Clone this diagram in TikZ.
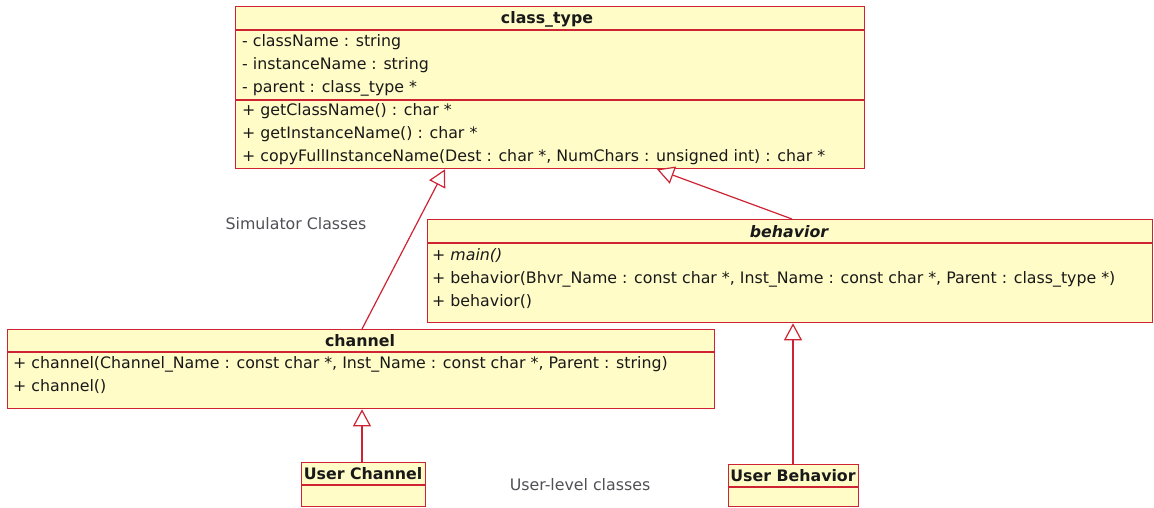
\documentclass[tikz,border=0pt]{standalone}
\usepackage{fontspec}
\setmainfont{DejaVu Sans}
\usetikzlibrary{arrows.meta}
\definecolor{umlline}{RGB}{205,35,50}
\definecolor{umlfill}{RGB}{255,252,200}
\definecolor{notegray}{RGB}{80,80,85}
\begin{document}
\begin{tikzpicture}[x=1pt,y=-1pt,
  font=\fontsize{15.8}{18}\selectfont,
  cls/.style={draw=umlline,fill=umlfill,line width=1.3pt,inner sep=0pt,anchor=north west},
  sep/.style={draw=umlline,line width=1.3pt},
  member/.style={anchor=base west,inner sep=0pt,text=black!90},
  title/.style={anchor=base,inner sep=0pt,text=black!90,font=\fontsize{15.8}{18}\selectfont\bfseries},
  inherit/.style={draw=umlline,line width=1.2pt,-{Triangle[open,length=17pt,width=18pt,fill=white]}},
  note/.style={inner sep=0pt,text=notegray}]
\useasboundingbox (0,0) rectangle (1154,508);
% class boxes
\node[cls,minimum width=629pt,minimum height=162pt] (ct) at (235,6) {};
\node[cls,minimum width=725pt,minimum height=103pt] (bh) at (427,219) {};
\node[cls,minimum width=707pt,minimum height=79pt] (ch) at (7,329) {};
\node[cls,minimum width=124pt,minimum height=44pt] (uc) at (301,462) {};
\node[cls,minimum width=130pt,minimum height=42pt] (ub) at (728,464) {};
% compartments
\draw[sep] (ct.west |- 0,30) -- (ct.east |- 0,30);
\draw[sep] (ct.west |- 0,100) -- (ct.east |- 0,100);
\draw[sep] (bh.west |- 0,243) -- (bh.east |- 0,243);
\draw[sep] (ch.west |- 0,352) -- (ch.east |- 0,352);
\draw[sep] (uc.west |- 0,485) -- (uc.east |- 0,485);
\draw[sep] (ub.west |- 0,487) -- (ub.east |- 0,487);
% class_type
\node[title] (ctname) at (547,23.5) {class\_type};
\node[member] (ct1) at (242,46.5) {- className : string};
\node[member] (ct2) at (242,69.5) {- instanceName : string};
\node[member] (ct3) at (242,92.5) {- parent : class\_type *};
\node[member] (ct4) at (242,115.5) {+ getClassName() : char *};
\node[member] (ct5) at (242,138.5) {+ getInstanceName() : char *};
\node[member] (ct6) at (242,161.5) {+ copyFullInstanceName(Dest : char *, NumChars : unsigned int) : char *};
% behavior
\node[title,font=\fontsize{15.8}{18}\selectfont\bfseries\itshape] (bhname) at (789,237.5) {behavior};
\node[member,font=\fontsize{15.8}{18}\selectfont\itshape] (bh1) at (432,260) {+ main()};
\node[member] (bh2) at (432,283) {+ behavior(Bhvr\_Name : const char *, Inst\_Name : const char *, Parent : class\_type *)};
\node[member] (bh3) at (432,306) {+ behavior()};
% channel
\node[title] (chname) at (360,346) {channel};
\node[member] (ch1) at (13,368.5) {+ channel(Channel\_Name : const char *, Inst\_Name : const char *, Parent : string)};
\node[member] (ch2) at (13,391.5) {+ channel()};
% user classes
\node[title] (ucname) at (363,479.5) {User Channel};
\node[title] (ubname) at (793,481.5) {User Behavior};
% notes
\node[note] (simnote) at (296,224) {Simulator Classes};
\node[note] (usernote) at (580,485) {User-level classes};
% generalizations
\draw[inherit] (ch.north -| 362,0) -- (ct.south -| 445,0);
\draw[inherit] (bh.north -| 792,0) -- (ct.south -| 657,0);
\draw[inherit] (uc.north -| 362,0) -- (ch.south -| 362,0);
\draw[inherit] (ub.north -| 793,0) -- (bh.south -| 793,0);
\end{tikzpicture}
\end{document}
